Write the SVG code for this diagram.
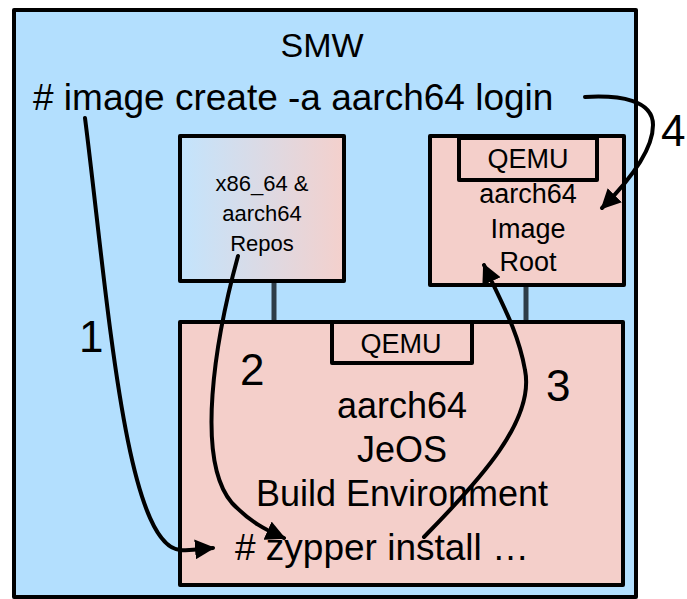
<svg xmlns="http://www.w3.org/2000/svg" width="687" height="599" viewBox="0 0 687 599">
  <defs>
    <linearGradient id="repoFill" x1="0" y1="0" x2="1" y2="0">
      <stop offset="0" stop-color="#c3e4fd"/>
      <stop offset="1" stop-color="#f4d0cc"/>
    </linearGradient>
    <marker id="head" viewBox="0 0 10 10" refX="9" refY="5" markerWidth="5" markerHeight="5" orient="auto" markerUnits="strokeWidth">
      <path d="M0 0 L10 5 L0 10 Z" fill="#000"/>
    </marker>
  </defs>
  <style>
    text { font-family: "Liberation Sans", Arial, sans-serif; fill: #000; }
    .box { stroke: #000; stroke-width: 4; stroke-linejoin: round; }
    .pink { fill: #f4cfca; }
    .link { stroke: #2e3d48; stroke-width: 5; fill: none; }
    .flow { stroke: #000; stroke-width: 4; fill: none; stroke-linecap: round; marker-end: url(#head); }
    .mid { text-anchor: middle; }
    .step { font-size: 44px; }
  </style>

  <!-- host machine -->
  <g id="smw">
    <rect class="box" x="14" y="10" width="622" height="587" fill="#b3dffe"/>
    <text class="mid" x="322" y="57" font-size="34">SMW</text>
    <text x="33" y="110" font-size="37"># image create -a aarch64 login</text>
  </g>

  <!-- package repositories -->
  <g id="repos">
    <rect class="box" x="180" y="136" width="164" height="145" fill="url(#repoFill)"/>
    <text class="mid" x="262" y="191" font-size="22">x86_64 &amp;</text>
    <text class="mid" x="262" y="221" font-size="22">aarch64</text>
    <text class="mid" x="262" y="251" font-size="22">Repos</text>
  </g>

  <!-- target image root -->
  <g id="image-root">
    <rect class="box pink" x="430" y="136" width="194" height="149"/>
    <rect class="box pink" x="459" y="138" width="138" height="42"/>
    <text class="mid" x="528" y="168" font-size="27">QEMU</text>
    <text class="mid" x="528" y="203" font-size="27">aarch64</text>
    <text class="mid" x="528" y="238" font-size="27">Image</text>
    <text class="mid" x="528" y="271" font-size="27">Root</text>
  </g>

  <!-- emulated build environment -->
  <g id="jeos">
    <rect class="box pink" x="180" y="322" width="443" height="263"/>
    <rect class="box pink" x="332" y="322" width="140" height="41"/>
    <text class="mid" x="401" y="353" font-size="27">QEMU</text>
    <text class="mid" x="402" y="418" font-size="36">aarch64</text>
    <text class="mid" x="402" y="462" font-size="36">JeOS</text>
    <text class="mid" x="402" y="506" font-size="36">Build Environment</text>
    <text x="235" y="560" font-size="37"># zypper install …</text>
  </g>

  <g id="connectors">
    <line class="link" x1="274" y1="283" x2="274" y2="320"/>
    <line class="link" x1="526" y1="287" x2="526" y2="320"/>

    <path class="flow" d="M85 118 C108 300 125 545 180 550 C192 551 200 549 213 548"/>
    <path class="flow" d="M238 256 C215 340 195 460 232 503 C250 522 266 530 284 538"/>
    <path class="flow" d="M424 537 C480 480 535 420 525 370 C518 330 500 300 484 265"/>
    <path class="flow" d="M585 97 C620 95 653 100 653 125 C653 150 630 180 602 208"/>

    <text class="step" x="79" y="352">1</text>
    <text class="step" x="240" y="385">2</text>
    <text class="step" x="546" y="401">3</text>
    <text class="step" x="661" y="146">4</text>
  </g>
</svg>
